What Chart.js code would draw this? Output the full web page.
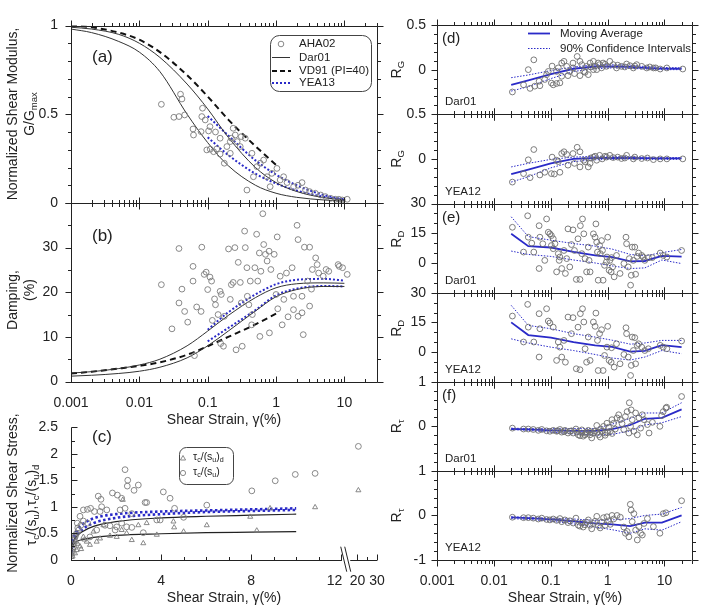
<!DOCTYPE html>
<html>
<head>
<meta charset="utf-8">
<script src="https://cdn.jsdelivr.net/npm/chart.js@4.4.1/dist/chart.umd.min.js"></script>
<style>
  body { margin: 0; background: #fff; }
  #wrap { position: relative; width: 704px; height: 612px; background: #fff; }
  #wrap canvas { position: absolute; left: 0; top: 0; }
</style>
</head>
<body>
<div id="wrap"></div>
<script>
// ---------- data: panel (a) G/Gmax ----------
const strainGrid = [0.001, 0.002, 0.005, 0.01, 0.02, 0.05, 0.1, 0.2, 0.5, 1, 2, 5, 10];
const dar01GUpper = [0.99, 0.98, 0.95, 0.90, 0.82, 0.67, 0.53, 0.37, 0.20, 0.115, 0.065, 0.03, 0.017];
const dar01GLower = [0.98, 0.96, 0.91, 0.85, 0.74, 0.50, 0.34, 0.21, 0.10, 0.055, 0.032, 0.017, 0.011];
const vd91Strain = [0.001, 0.002, 0.005, 0.01, 0.02, 0.05, 0.1, 0.2, 0.5, 1];
const vd91G = [1.0, 0.99, 0.96, 0.92, 0.85, 0.72, 0.60, 0.47, 0.32, 0.215];
const yea13Strain = [0.1, 0.2, 0.5, 1, 2, 5, 10];
const yea13GUpper = [0.49, 0.38, 0.24, 0.16, 0.10, 0.045, 0.02];
const yea13GLower = [0.37, 0.27, 0.165, 0.11, 0.07, 0.035, 0.018];
const aha02G = [[0.021,0.556],[0.032,0.483],[0.038,0.487],[0.046,0.496],[0.040,0.613],[0.042,0.586],[0.061,0.417],[0.062,0.383],
  [0.084,0.534],[0.082,0.487],[0.080,0.402],[0.103,0.406],[0.097,0.299],[0.109,0.303],[0.122,0.289],[0.136,0.305],[0.152,0.276],
  [0.175,0.224],[0.191,0.318],[0.214,0.346],[0.222,0.365],[0.253,0.383],[0.299,0.318],[0.354,0.365],[0.375,0.073],[0.444,0.28],
  [0.467,0.148],[0.526,0.205],[0.587,0.224],[0.658,0.242],[0.736,0.148],[0.82,0.092],[0.87,0.167],[1.03,0.195],[1.15,0.13],
  [1.29,0.148],[1.45,0.115],[1.81,0.092],[2.1,0.10],[2.4,0.115],[2.7,0.073],[3.1,0.064],[3.76,0.055],[4.5,0.045],[5.27,0.036],
  [6.3,0.026],[7.4,0.021],[8.3,0.021],[9.3,0.017],[11,0.021],[0.092,0.468],[0.108,0.43],[0.13,0.40],[0.236,0.421],[0.152,0.365],
  [0.214,0.28],[0.27,0.346],[0.31,0.374]];

// ---------- data: panel (b) damping ----------
const dar01DUpper = [1.9, 2.2, 2.9, 3.7, 5.0, 8.0, 11.3, 14.8, 18.8, 21.0, 21.9, 22.1, 22.0];
const dar01DLower = [1.2, 1.4, 1.8, 2.3, 3.2, 5.3, 8.0, 11.3, 15.8, 19.0, 20.6, 21.3, 21.3];
const vd91D = [1.8, 2.2, 2.9, 3.5, 4.3, 6.0, 7.9, 10.0, 12.8, 15.2];
const yea13DUpper = [11.6, 15.5, 19.5, 21.8, 22.8, 23.0, 22.6];
const yea13DLower = [9.0, 12.0, 16.0, 19.3, 20.8, 21.4, 21.3];
const aha02D = [[0.021,21.7],[0.030,11.8],[0.038,29.8],[0.038,17.6],[0.042,20.7],[0.046,15.7],[0.051,13.3],[0.061,25.8],
  [0.061,22.5],[0.064,5.8],[0.069,16.7],[0.080,15.7],[0.082,30.1],[0.089,24.0],[0.095,24.5],[0.1,20.6],[0.108,23.4],[0.114,22.5],
  [0.117,13.7],[0.126,18.5],[0.13,17.2],[0.142,15.0],[0.152,20.2],[0.155,8.5],[0.158,19.5],[0.17,7.9],[0.175,14.6],[0.202,29.7],
  [0.214,18.4],[0.222,21.7],[0.236,22.2],[0.25,30.0],[0.26,7.1],[0.28,26.7],[0.30,22.2],[0.31,17.6],[0.32,7.9],[0.347,33.7],
  [0.355,30.0],[0.375,25.5],[0.38,19.1],[0.40,17.2],[0.42,22.5],[0.44,12.7],[0.45,15.0],[0.49,25.5],[0.52,33.0],[0.54,22.5],
  [0.57,28.8],[0.58,10.1],[0.60,24.7],[0.64,37.6],[0.66,30.7],[0.70,28.5],[0.74,27.0],[0.79,29.2],[0.8,10.9],[0.84,25.1],
  [0.94,28.5],[1.0,19.5],[1.04,32.4],[1.06,16.3],[1.15,23.6],[1.23,12.7],[1.3,18.4],[1.42,24.3],[1.5,14.5],[1.72,25.5],
  [1.8,19.1],[1.8,16.1],[2.03,35.0],[2.1,31.8],[2.1,14.6],[2.4,15.4],[2.4,19.1],[2.5,10.5],[2.6,30.1],[2.9,22.5],[3.1,30.1],
  [3.1,16.9],[3.3,20.7],[3.4,25.1],[3.8,27.7],[4.0,26.2],[4.2,24.3],[4.9,23.6],[5.4,25.1],[5.9,24.7],[8.1,26.2],[8.4,25.8],
  [9.4,25.5],[11,24.0]];

// ---------- data: panel (c) normalized shear stress ----------
const tauStrain = [0.01, 0.05, 0.1, 0.2, 0.5, 1, 2, 4, 6, 8, 10];
const dar01TauUpper = [0.10, 0.25, 0.33, 0.42, 0.53, 0.63, 0.72, 0.79, 0.82, 0.84, 0.86];
const dar01TauLower = [0.08, 0.20, 0.27, 0.33, 0.38, 0.42, 0.46, 0.49, 0.51, 0.52, 0.53];
const yea13TauUpper = [0.15, 0.28, 0.38, 0.50, 0.66, 0.78, 0.86, 0.91, 0.93, 0.95, 0.97];
const yea13TauLower = [0.12, 0.22, 0.30, 0.42, 0.57, 0.69, 0.79, 0.86, 0.90, 0.92, 0.94];
const tauSu = [[2.4,1.70],[2.52,1.50],[2.5,1.39],[2.8,1.31],[2.99,1.41],[1.21,1.20],[1.33,1.14],[1.84,1.26],[2.06,1.22],
  [2.25,1.16],[3.29,1.08],[3.36,1.08],[4.1,1.28],[4.4,1.16],[4.6,0.97],[6.03,1.03],[8.03,1.30],[9.07,1.49],[9.96,1.61],
  [10.84,1.63],[20.7,2.14],[5.0,0.80],[3.81,0.75],[0.4,0.82],[0.55,0.94],[0.73,0.95],[0.87,0.97],[1.04,0.91],[1.29,0.91],
  [1.36,1.0],[1.59,0.94],[2.18,0.94],[2.4,0.97],[2.7,0.87],[0.55,0.73],[0.74,0.69],[0.34,0.56],[0.28,0.69],[0.44,0.65],
  [0.18,0.43],[0.84,0.43],[1.14,0.56],[1.51,0.65],[1.73,0.64],[1.96,0.56],[2.03,0.62],[2.25,0.69],[2.47,0.62],[2.7,0.61],
  [3.21,0.51],[3.96,0.75],[0.1,0.3],[0.15,0.38],[0.25,0.5],[0.3,0.6],[0.06,0.2],[0.2,0.46]];
const tauSuD = [[2.3,1.13],[1.73,0.45],[2.03,0.43],[2.25,0.56],[2.47,0.50],[2.7,0.37],[2.99,0.65],[3.21,0.31],[3.36,0.69],
  [3.81,0.47],[4.55,0.72],[4.58,0.61],[5.0,0.53],[6.03,0.65],[7.96,0.81],[8.25,0.55],[8.84,0.97],[10.84,0.99],[20.7,1.31],
  [0.7,0.34],[0.84,0.28],[1.14,0.34],[1.29,0.40],[0.4,0.25],[0.25,0.18],[0.18,0.12],[0.55,0.43],[1.0,0.53],[1.44,0.65],
  [0.22,0.34],[0.07,0.06],[0.02,0.05],[0.05,0.1],[0.08,0.15],[0.12,0.22],[0.15,0.28],[0.3,0.3],[0.45,0.2],[0.6,0.38]];

// ---------- data: right panels (residuals) ----------
const maStrain = [0.02, 0.04, 0.1, 0.25, 0.6, 1.2, 2.5, 4.5, 9, 20];
const dTopMA = [-0.17, -0.12, -0.05, 0.01, 0.035, 0.035, 0.03, 0.02, 0.012, 0.01];
const dTopUp = [-0.09, -0.06, -0.01, 0.03, 0.055, 0.055, 0.05, 0.035, 0.025, 0.02];
const dTopLo = [-0.24, -0.19, -0.10, -0.02, 0.01, 0.02, 0.015, 0.008, 0.0, 0.0];
const dBotMA = [-0.17, -0.12, -0.05, 0.0, 0.01, 0.01, 0.01, 0.008, 0.006, 0.005];
const dBotUp = [-0.09, -0.05, -0.005, 0.02, 0.03, 0.03, 0.025, 0.02, 0.015, 0.015];
const dBotLo = [-0.26, -0.20, -0.10, -0.03, -0.01, -0.005, 0.0, -0.005, -0.005, -0.005];
const eTopMA = [14.7, 8.5, 7.8, 5.6, 3.8, 3.0, 0.8, 1.0, 3.6, 3.2];
const eTopUp = [23.3, 13.3, 11.5, 9.8, 8.5, 7.0, 4.3, 3.6, 5.2, 6.8];
const eTopLo = [6.0, 4.3, 3.3, 1.5, 0.0, -1.5, -2.8, -2.5, 1.5, -0.3];
const eBotMA = [15.0, 8.6, 7.3, 5.0, 3.4, 2.6, 0.2, 0.6, 3.5, 2.5];
const eBotUp = [23.6, 13.5, 11.8, 9.3, 7.6, 6.0, 4.0, 4.6, 5.9, 5.9];
const eBotLo = [6.7, 4.6, 2.5, 0.8, -1.2, -3.0, -4.0, -2.5, 0.8, -0.8];
const fTopMA = [-0.06, -0.07, -0.09, -0.10, -0.10, -0.06, 0.03, 0.17, 0.19, 0.38];
const fTopUp = [-0.04, -0.05, -0.05, -0.05, -0.05, 0.05, 0.18, 0.30, 0.30, 0.53];
const fTopLo = [-0.07, -0.09, -0.13, -0.17, -0.20, -0.18, -0.10, 0.03, 0.08, 0.22];
const fBotMA = [-0.045, -0.06, -0.09, -0.13, -0.18, -0.20, -0.24, -0.16, -0.16, 0.0];
const fBotUp = [-0.03, -0.04, -0.06, -0.08, -0.11, -0.10, -0.07, 0.0, 0.03, 0.18];
const fBotLo = [-0.07, -0.09, -0.13, -0.19, -0.26, -0.32, -0.40, -0.30, -0.33, -0.14];

const dTopPts = [[0.021,-0.25],[0.033,-0.17],[0.040,0.0],[0.050,0.11],[0.043,-0.21],[0.052,-0.185],[0.064,-0.18],[0.062,-0.13],
  [0.078,-0.11],[0.084,-0.056],[0.09,-0.02],[0.102,-0.15],[0.11,-0.17],[0.126,-0.155],[0.144,-0.148],[0.155,0.074],[0.17,0.093],
  [0.19,0.037],[0.215,-0.02],[0.245,0.074],[0.29,0.148],[0.325,0.093],[0.35,0.056],[0.38,-0.02],[0.425,0.037],[0.455,-0.056],
  [0.49,0.074],[0.56,0.093],[0.64,0.0],[0.72,0.056],[0.83,0.074],[0.95,0.037],[1.09,0.093],[1.25,0.056],[1.43,0.019],[1.75,0.037],
  [2.15,0.063],[2.47,0.044],[2.83,0.019],[3.24,0.056],[3.97,0.037],[4.87,0.019],[6.38,0.019],[8.4,0.007],[11,0.019],[21,0.007],
  [0.126,-0.02],[0.155,-0.074],[0.2,-0.067],[0.26,-0.044],[0.325,-0.067],[0.4,-0.03],[0.245,0.02],[0.56,0.0],[0.68,0.074],
  [0.78,0.02],[0.105,0.04],[0.135,0.02],[0.5,0.03],[0.6,0.04],[0.9,0.06],[1.5,0.05],[2.0,0.03],[3.0,0.04],[5.5,0.03],[7,0.02]];
const dBotPts = [[0.021,-0.26],[0.033,-0.165],[0.04,-0.01],[0.05,0.105],[0.043,-0.21],[0.064,-0.18],[0.078,-0.15],[0.102,-0.165],
  [0.115,-0.17],[0.144,-0.15],[0.155,0.06],[0.17,0.08],[0.19,0.05],[0.245,0.06],[0.29,0.13],[0.325,0.08],[0.38,-0.015],
  [0.455,-0.09],[0.49,-0.05],[0.56,0.02],[0.64,-0.015],[0.72,0.04],[0.95,0.02],[1.09,0.04],[1.25,0.015],[1.75,0.004],[2.15,0.04],
  [2.83,0.0],[3.97,0.004],[6.38,-0.008],[11,0.0],[21,0.0],[0.126,-0.015],[0.2,-0.07],[0.26,-0.05],[0.325,-0.09],[0.4,-0.034],
  [0.105,0.02],[0.135,-0.03],[0.5,0.01],[0.6,0.03],[0.8,0.0],[0.9,0.03],[1.5,0.02],[2.0,0.01],[3.0,0.02],[5,0.01],[8.4,0.0]];
const eTopPts = [[0.021,18],[0.033,5.5],[0.039,23.8],[0.04,13],[0.046,10],[0.05,5.5],[0.062,18.8],[0.062,-2.8],[0.064,13],
  [0.072,9.7],[0.078,1.3],[0.084,22.2],[0.09,15.5],[0.096,14.7],[0.102,13.8],[0.11,12.2],[0.102,8.8],[0.11,7.2],[0.118,9.7],
  [0.126,-4.5],[0.135,4.7],[0.14,1.3],[0.144,3],[0.155,-2.8],[0.17,6.3],[0.18,-5.3],[0.19,2.2],[0.2,17.2],[0.215,-2],[0.23,9.3],
  [0.245,16.7],[0.26,6.3],[0.28,-8.3],[0.3,12.2],[0.325,-8.3],[0.33,18.8],[0.35,4.7],[0.36,22.2],[0.38,14.7],[0.4,2.2],
  [0.425,-4.5],[0.455,8],[0.47,1.3],[0.49,-4.5],[0.56,14.7],[0.6,13],[0.62,19.7],[0.64,10.5],[0.66,5.5],[0.68,-8.7],[0.72,8.8],
  [0.74,4.7],[0.78,11.3],[0.81,6.3],[0.83,-8.7],[0.88,-1.2],[0.95,0.5],[0.97,3],[1.0,13],[1.06,-3.7],[1.09,1.3],[1.15,-4.5],
  [1.17,2.7],[1.22,-2],[1.3,-7],[1.43,3.8],[1.65,-5.3],[1.93,-0.3],[2.1,13],[2.15,9.7],[2.3,-2],[2.4,2.2],[2.53,-11.2],
  [2.6,-6.2],[2.7,8],[2.83,1.3],[3.0,8],[3.1,-5.7],[3.3,3.3],[3.5,5],[3.97,3.8],[4.2,3],[4.5,1.3],[5.2,2.7],[6.1,2.7],[8.4,5],
  [9.5,3.8],[11,3],[20,6.3]];
const eBotPts = [[0.021,18.2],[0.033,5.1],[0.039,24.1],[0.04,12.6],[0.05,5.1],[0.062,19.4],[0.062,-2.5],[0.064,11.8],[0.084,21.9],
  [0.09,15.7],[0.096,14.7],[0.11,12.6],[0.126,-4.2],[0.135,5.1],[0.144,2.5],[0.155,-2.5],[0.17,5.9],[0.18,-5.1],[0.2,17.7],
  [0.23,9.3],[0.245,17.4],[0.28,-8.4],[0.3,12.6],[0.325,-8.9],[0.33,19.4],[0.36,21.9],[0.38,15.2],[0.4,1.7],[0.425,-5.1],
  [0.455,7.6],[0.49,-4.2],[0.56,15.2],[0.6,13],[0.62,19.7],[0.66,5.9],[0.68,-9.3],[0.72,9.3],[0.78,11.3],[0.83,-9.3],[0.88,-1.7],
  [0.97,2.5],[1.0,13],[1.06,-4.2],[1.15,-5.1],[1.17,2.2],[1.3,-7.6],[1.43,4.2],[1.65,-5.9],[1.93,-1.2],[2.1,12.3],[2.15,9.3],
  [2.3,-2.5],[2.53,-11.8],[2.6,-6.7],[2.7,7.6],[2.83,0.8],[3.0,7.3],[3.1,-5.9],[3.3,3.4],[3.5,4.2],[3.97,2.5],[4.5,0.8],
  [5.2,1.7],[8.4,3.4],[9.5,2.5],[11,1.7],[20,5.6]];
const fTopPts = [[0.021,-0.04],[0.033,-0.06],[0.040,-0.06],[0.049,-0.07],[0.060,-0.09],[0.069,-0.07],[0.084,-0.1],[0.096,-0.11],
  [0.11,-0.09],[0.126,-0.11],[0.144,-0.07],[0.155,-0.13],[0.177,-0.09],[0.2,-0.15],[0.216,-0.11],[0.247,-0.15],[0.276,-0.06],
  [0.303,-0.19],[0.324,-0.21],[0.347,-0.15],[0.371,-0.22],[0.398,-0.19],[0.426,-0.13],[0.456,-0.09],[0.488,-0.19],[0.523,-0.26],
  [0.56,-0.15],[0.6,-0.11],[0.642,0.02],[0.688,-0.19],[0.737,-0.24],[0.789,-0.11],[0.845,0.0],[0.905,-0.15],[0.969,0.07],
  [1.04,-0.02],[1.11,-0.11],[1.19,0.15],[1.27,0.07],[1.36,-0.06],[1.46,0.19],[1.56,0.26],[1.67,0.15],[1.79,0.06],[1.92,-0.07],
  [2.05,0.22],[2.2,0.33],[2.36,-0.15],[2.52,0.0],[2.59,0.37],[2.7,0.15],[2.89,-0.11],[3.1,0.3],[3.32,-0.19],[3.55,0.19],
  [3.8,-0.04],[4.07,0.26],[4.36,0.15],[5.0,0.04],[5.35,-0.15],[6.13,0.09],[8.3,0.0],[8.9,0.24],[9.5,0.33],[10.6,0.41],[10.9,0.43],
  [2.4,0.53],[20,0.67],[0.13,-0.1],[0.17,-0.12],[0.23,-0.1],[0.29,-0.13],[0.35,-0.08],[0.42,-0.16],[0.5,-0.12],[0.65,-0.13],
  [0.75,-0.06],[0.9,-0.2],[1.0,-0.14],[1.2,-0.16]];
const fBotPts = [[0.021,-0.04],[0.033,-0.05],[0.04,-0.05],[0.049,-0.06],[0.06,-0.08],[0.069,-0.06],[0.084,-0.09],[0.096,-0.1],
  [0.11,-0.08],[0.126,-0.11],[0.144,-0.07],[0.155,-0.14],[0.177,-0.1],[0.2,-0.16],[0.216,-0.12],[0.247,-0.17],[0.276,-0.06],
  [0.303,-0.22],[0.324,-0.24],[0.347,-0.17],[0.371,-0.26],[0.398,-0.21],[0.426,-0.15],[0.456,-0.1],[0.488,-0.22],[0.523,-0.3],
  [0.56,-0.18],[0.6,-0.13],[0.642,-0.02],[0.688,-0.23],[0.737,-0.28],[0.789,-0.15],[0.845,-0.05],[0.905,-0.22],[0.969,-0.03],
  [1.04,-0.12],[1.11,-0.2],[1.19,0.0],[1.27,-0.08],[1.46,0.0],[1.67,-0.04],[1.92,-0.26],[2.05,-0.4],[2.2,-0.36],[2.36,-0.48],
  [2.5,0.25],[2.59,0.12],[2.7,-0.14],[2.89,0.04],[3.1,-0.33],[3.32,-0.55],[3.55,-0.25],[3.8,-0.4],[4.07,-0.44],[4.36,-0.18],
  [5.0,-0.07],[6.38,-0.25],[8.3,-0.4],[9.5,0.04],[10.6,0.06],[20,0.33]];

// ---------- styling & helpers ----------
const FONT = '"Liberation Sans", Arial, Helvetica, sans-serif';
const INK = '#222';
const GREY = '#7c7c7c';
const BLUE = '#2a2ac8';
const wrap = document.getElementById('wrap');

const zip = (xs, ys) => xs.map((x, i) => ({ x: x, y: ys[i] }));
const pairs = (arr, fx) => arr.map(([x, y]) => ({ x: fx ? fx(x) : x, y: y }));
// broken x axis of panel (c): 0..12 linear, then 20..30 squeezed in
const brk = x => (x <= 12.5 ? x : 12.70 + (x - 20) * 0.0889);

function line(data, color, width, dash, smooth) {
  return { data, showLine: true, pointRadius: 0, borderColor: color, borderWidth: width,
    borderDash: dash || [], cubicInterpolationMode: smooth ? 'monotone' : 'default', fill: false };
}
function dots(data, style, color) {
  return { data, showLine: false, pointStyle: style || 'circle', pointRadius: 2.9,
    pointBorderColor: color || GREY, pointBackgroundColor: 'rgba(0,0,0,0)', pointBorderWidth: 0.9 };
}
function range(a, b, s) { const out = []; for (let v = a; v <= b + s * 1e-6; v += s) out.push(+v.toFixed(6)); return out; }
function logTicks(lo, hi) {
  const out = [];
  for (let e = -3; e <= 1; e++) for (let m = 1; m <= 9; m++) {
    const v = +(m * Math.pow(10, e)).toPrecision(3);
    if (v >= lo * 0.999 && v <= hi * 1.001) out.push(v);
  }
  return out;
}
const near = (v, list) => list.some(m => Math.abs(m - v) < 1e-9 * Math.max(1, Math.abs(m)));

function rich(ctx, parts, x, y, size, align) {
  const w = parts.map(([t, s]) => { ctx.font = (s ? size * 0.68 : size) + 'px ' + FONT; return ctx.measureText(t).width; });
  const tot = w.reduce((a, b) => a + b, 0);
  let cx = align === 'center' ? x - tot / 2 : align === 'right' ? x - tot : x;
  ctx.textAlign = 'left'; ctx.textBaseline = 'middle';
  parts.forEach(([t, s], i) => {
    ctx.font = (s ? size * 0.68 : size) + 'px ' + FONT;
    ctx.fillText(t, cx, y + (s ? size * 0.3 : 0));
    cx += w[i];
  });
}
function vrich(ctx, parts, x, y, size) {
  ctx.save(); ctx.translate(x, y); ctx.rotate(-Math.PI / 2);
  rich(ctx, parts, 0, 0, size, 'center');
  ctx.restore();
}
function roundBox(ctx, x0, y0, x1, y1, r) {
  ctx.beginPath();
  ctx.moveTo(x0 + r, y0); ctx.lineTo(x1 - r, y0); ctx.arcTo(x1, y0, x1, y0 + r, r);
  ctx.lineTo(x1, y1 - r); ctx.arcTo(x1, y1, x1 - r, y1, r); ctx.lineTo(x0 + r, y1);
  ctx.arcTo(x0, y1, x0, y1 - r, r); ctx.lineTo(x0, y0 + r); ctx.arcTo(x0, y0, x0 + r, y0, r);
  ctx.stroke();
}

function drawFrame(c, f) {
  const ctx = c.ctx, A = c.chartArea, X = c.scales.x, Y = c.scales.y;
  const L = Math.round(A.left) + 0.5, R = Math.round(A.right) + 0.5;
  const T = Math.round(A.top) + 0.5, B = Math.round(A.bottom) + 0.5;
  ctx.save();
  ctx.strokeStyle = INK; ctx.fillStyle = INK; ctx.lineWidth = 1;
  ctx.beginPath();
  if (f.box.includes('l')) { ctx.moveTo(L, T); ctx.lineTo(L, B); }
  if (f.box.includes('r')) { ctx.moveTo(R, T); ctx.lineTo(R, B); }
  if (f.box.includes('t')) { ctx.moveTo(L, T); ctx.lineTo(R, T); }
  if (f.box.includes('b')) {
    (f.bottomSegs || [[X.min, X.max]]).forEach(([a, b]) => {
      ctx.moveTo(X.getPixelForValue(a), B); ctx.lineTo(X.getPixelForValue(b), B);
    });
  }
  // tick marks
  const seg = (x0, y0, x1, y1) => { ctx.moveTo(x0, y0); ctx.lineTo(x1, y1); };
  const span = (base, sign, len, dir) =>
    dir === 'out' ? [base, base + sign * len] : dir === 'in' ? [base, base - sign * len] : [base - len, base + len];
  const xt = f.xt, yt = f.yt;
  xt.vals.forEach(v => {
    const p = Math.round(X.getPixelForValue(v)) + 0.5, len = near(v, xt.major) ? 6 : 3.5;
    if (xt.top) { const [a, b] = span(T, -1, len, xt.top); seg(p, a, p, b); }
    if (xt.bottom) { const [a, b] = span(B, 1, len, xt.bottom); seg(p, a, p, b); }
  });
  yt.vals.forEach(v => {
    const p = Math.round(Y.getPixelForValue(v)) + 0.5, len = near(v, yt.major) ? 6 : 3.5;
    if (yt.left) { const [a, b] = span(L, -1, len, yt.left); seg(a, p, b, p); }
    if (yt.right) { const [a, b] = span(R, 1, len, yt.right); seg(a, p, b, p); }
  });
  ctx.stroke();
  // tick labels
  ctx.font = '14px ' + FONT; ctx.textBaseline = 'middle';
  ctx.textAlign = 'right';
  (f.yl || []).forEach(([v, t]) => ctx.fillText(t, f.ylx, Y.getPixelForValue(v)));
  ctx.textAlign = 'center';
  (f.xl || []).forEach(([v, t]) => ctx.fillText(t, X.getPixelForValue(v), f.xly));
  if (f.decor) f.decor(ctx, c);
  ctx.restore();
}

function panel(f) {
  const cv = document.createElement('canvas');
  cv.width = 704; cv.height = 612;
  wrap.appendChild(cv);
  const [l, t, r, b] = f.area;
  return new Chart(cv, {
    type: 'scatter',
    data: { datasets: f.datasets },
    options: {
      responsive: false, animation: false, events: [],
      layout: { autoPadding: false, padding: { left: l, top: t, right: 704 - r, bottom: 612 - b } },
      scales: {
        x: Object.assign({ display: false }, f.x),
        y: Object.assign({ display: false }, f.y)
      },
      plugins: { legend: { display: false }, tooltip: { enabled: false } }
    },
    plugins: [{ id: 'frame', afterDraw: c => drawFrame(c, f) }]
  });
}

const leftLog = { type: 'logarithmic', min: 0.001, max: 30 };
const decades = [0.001, 0.01, 0.1, 1, 10];
const strainTitle = [['Shear Strain, γ(%)', false]];

// ---------- panel (a) ----------
panel({
  area: [71, 25.5, 377, 203],
  x: leftLog, y: { min: 0, max: 1 },
  datasets: [
    dots(pairs(aha02G)),
    line(zip(strainGrid, dar01GUpper), '#333', 1, [], true),
    line(zip(strainGrid, dar01GLower), '#333', 1, [], true),
    line(zip(vd91Strain, vd91G), '#111', 2, [6, 4], true),
    line(zip(yea13Strain, yea13GUpper), BLUE, 2, [2, 2], true),
    line(zip(yea13Strain, yea13GLower), BLUE, 2, [2, 2], true)
  ],
  box: 'lrtb',
  xt: { vals: logTicks(0.001, 30), major: decades, top: 'out', bottom: 'both' },
  yt: { vals: range(0, 1, 0.1), major: [0, 0.5, 1], left: 'out', right: 'out' },
  yl: [[0, '0'], [0.5, '0.5'], [1, '1']], ylx: 58,
  decor: ctx => {
    ctx.font = '17px ' + FONT; ctx.textAlign = 'left'; ctx.textBaseline = 'middle';
    ctx.fillText('(a)', 92, 57);
    vrich(ctx, [['Normalized Shear Modulus,', false]], 13, 114, 14);
    vrich(ctx, [['G/G', false], ['max', true]], 30, 114, 14);
    // legend
    ctx.strokeStyle = '#444'; ctx.lineWidth = 1;
    roundBox(ctx, 270.5, 35.5, 371.5, 91.5, 9);
    ctx.strokeStyle = GREY; ctx.lineWidth = 0.9;
    ctx.beginPath(); ctx.arc(281, 44, 2.8, 0, Math.PI * 2); ctx.stroke();
    ctx.strokeStyle = '#333'; ctx.lineWidth = 1;
    ctx.beginPath(); ctx.moveTo(272, 57.5); ctx.lineTo(290, 57.5); ctx.stroke();
    ctx.strokeStyle = '#111'; ctx.lineWidth = 2; ctx.setLineDash([5, 3]);
    ctx.beginPath(); ctx.moveTo(272, 71); ctx.lineTo(291, 71); ctx.stroke();
    ctx.strokeStyle = BLUE; ctx.setLineDash([2, 2]);
    ctx.beginPath(); ctx.moveTo(272, 83); ctx.lineTo(291, 83); ctx.stroke();
    ctx.setLineDash([]);
    ctx.fillStyle = INK; ctx.font = '11.5px ' + FONT; ctx.textAlign = 'left';
    ctx.fillText('AHA02', 299, 44); ctx.fillText('Dar01', 299, 57.5);
    ctx.fillText('VD91 (PI=40)', 299, 71); ctx.fillText('YEA13', 299, 83);
  }
});

// ---------- panel (b) ----------
panel({
  area: [71, 203, 377, 381.5],
  x: leftLog, y: { min: 0, max: 40 },
  datasets: [
    dots(pairs(aha02D)),
    line(zip(strainGrid, dar01DUpper), '#333', 1, [], true),
    line(zip(strainGrid, dar01DLower), '#333', 1, [], true),
    line(zip(vd91Strain, vd91D), '#111', 2, [6, 4], true),
    line(zip(yea13Strain, yea13DUpper), BLUE, 2, [2, 2], true),
    line(zip(yea13Strain, yea13DLower), BLUE, 2, [2, 2], true)
  ],
  box: 'lrb',
  xt: { vals: logTicks(0.001, 30), major: decades, bottom: 'in' },
  yt: { vals: range(0, 40, 5), major: [0, 10, 20, 30, 40], left: 'out', right: 'out' },
  yl: [[0, '0'], [10, '10'], [20, '20'], [30, '30']], ylx: 58,
  xl: [[0.001, '0.001'], [0.01, '0.01'], [0.1, '0.1'], [1, '1'], [10, '10']], xly: 403,
  decor: ctx => {
    ctx.font = '17px ' + FONT; ctx.textAlign = 'left'; ctx.textBaseline = 'middle';
    ctx.fillText('(b)', 92, 236);
    vrich(ctx, [['Damping,', false]], 13, 300, 14);
    vrich(ctx, [['(%)', false]], 30, 290, 14);
    rich(ctx, strainTitle, 224, 420, 14, 'center');
  }
});

// ---------- panel (c) ----------
panel({
  area: [71, 427.3, 377, 559.7],
  x: { type: 'linear', min: 0, max: brk(30) }, y: { min: 0, max: 2.5 },
  datasets: [
    dots(pairs(tauSuD, brk), 'triangle'),
    dots(pairs(tauSu, brk)),
    line(zip(tauStrain, dar01TauUpper), '#222', 1.2, [], true),
    line(zip(tauStrain, dar01TauLower), '#222', 1.2, [], true),
    line(zip(tauStrain, yea13TauUpper), BLUE, 2.6, [2.5, 2.5], true),
    line(zip(tauStrain, yea13TauLower), BLUE, 2.6, [2.5, 2.5], true)
  ],
  box: 'lb', bottomSegs: [[0, 12.03], [12.4, brk(30)]],
  xt: { vals: range(0, 12, 1).concat([brk(20), brk(25), brk(30)]), major: [0, 4, 8, 12, brk(20), brk(30)], bottom: 'in' },
  yt: { vals: range(0, 2.5, 0.25), major: range(0, 2.5, 0.5), left: 'in' },
  yl: [[0, '0'], [0.5, '0.5'], [1, '1'], [1.5, '1.5'], [2, '2'], [2.5, '2.5']], ylx: 58,
  xl: [[0, '0'], [4, '4'], [8, '8'], [11.7, '12'], [brk(20.3), '20'], [brk(30), '30']], xly: 581.5,
  decor: (ctx, c) => {
    ctx.font = '17px ' + FONT; ctx.textAlign = 'left'; ctx.textBaseline = 'middle';
    ctx.fillText('(c)', 92, 437);
    vrich(ctx, [['Normalized Shear Stress,', false]], 13, 493, 14);
    vrich(ctx, [['τ', false], ['c', true], ['/(s', false], ['u', true], ['),τ', false], ['c', true], ['/(s', false], ['u', true], [')', false], ['d', true]], 32, 505, 14);
    rich(ctx, strainTitle, 224, 598, 14, 'center');
    // axis break marks
    const px = c.scales.x.getPixelForValue(12.2), by = c.chartArea.bottom;
    ctx.strokeStyle = INK; ctx.lineWidth = 1; ctx.beginPath();
    ctx.moveTo(px - 5, by - 13); ctx.lineTo(px + 1, by + 12);
    ctx.moveTo(px - 1, by - 13); ctx.lineTo(px + 5, by + 12);
    ctx.stroke();
    // legend
    ctx.strokeStyle = '#444';
    roundBox(ctx, 179.5, 447.5, 233.5, 484.5, 7);
    ctx.strokeStyle = GREY; ctx.lineWidth = 0.9; ctx.beginPath();
    ctx.moveTo(183, 455.5); ctx.lineTo(185.6, 460); ctx.lineTo(180.4, 460); ctx.closePath(); ctx.stroke();
    ctx.beginPath(); ctx.arc(183, 473, 2.6, 0, Math.PI * 2); ctx.stroke();
    ctx.fillStyle = INK;
    rich(ctx, [['τ', false], ['c', true], ['/(s', false], ['u', true], [')', false], ['d', true]], 193, 457, 10.5, 'left');
    rich(ctx, [['τ', false], ['c', true], ['/(s', false], ['u', true], [')', false]], 193, 472, 10.5, 'left');
  }
});

// ---------- right panels (d), (e), (f) ----------
const rightLog = { type: 'logarithmic', min: 0.001, max: 30 };
const rightPanels = [
  { area: [437.3, 25, 691.6, 114.3], y: [-0.5, 0.5], step: 0.1, yl: [[0.5, '0.5'], [0, '0']], pts: dTopPts,
    ma: dTopMA, up: dTopUp, lo: dTopLo, tag: 'Dar01', sub: 'G', titleAt: 0, letter: '(d)', top: 'out', bottom: 'both' },
  { area: [437.3, 114.3, 691.6, 203.5], y: [-0.5, 0.5], step: 0.1, yl: [[0.5, '0.5'], [0, '0']], pts: dBotPts,
    ma: dBotMA, up: dBotUp, lo: dBotLo, tag: 'YEA12', sub: 'G', titleAt: 0, top: 'both', bottom: 'both' },
  { area: [437.3, 203.5, 691.6, 292.7], y: [-15, 30], step: 5, yl: [[30, '30'], [15, '15'], [0, '0']], pts: eTopPts,
    ma: eTopMA, up: eTopUp, lo: eTopLo, tag: 'Dar01', sub: 'D', titleAt: 12, letter: '(e)', top: 'both', bottom: 'both' },
  { area: [437.3, 292.7, 691.6, 381.8], y: [-15, 30], step: 5, yl: [[30, '30'], [15, '15'], [0, '0']], pts: eBotPts,
    ma: eBotMA, up: eBotUp, lo: eBotLo, tag: 'YEA12', sub: 'D', titleAt: 12, top: 'both', bottom: 'both' },
  { area: [437.3, 381.8, 691.6, 470.9], y: [-1, 1], step: 0.2, yl: [[1, '1'], [0, '0']], pts: fTopPts,
    ma: fTopMA, up: fTopUp, lo: fTopLo, tag: 'Dar01', sub: 'τ', titleAt: 0, letter: '(f)', top: 'both', bottom: 'both' },
  { area: [437.3, 470.9, 691.6, 560], y: [-1, 1], step: 0.2, yl: [[1, '1'], [0, '0'], [-1, '-1']], pts: fBotPts,
    ma: fBotMA, up: fBotUp, lo: fBotLo, tag: 'YEA12', sub: 'τ', titleAt: 0, top: 'both', bottom: 'out', last: true }
];

rightPanels.forEach((p, i) => {
  const [ymin, ymax] = p.y;
  panel({
    area: p.area,
    x: rightLog, y: { min: ymin, max: ymax },
    datasets: [
      dots(pairs(p.pts), 'circle', '#6e6e6e'),
      line(zip(maStrain, p.up), BLUE, 1, [1.5, 1.5]),
      line(zip(maStrain, p.lo), BLUE, 1, [1.5, 1.5]),
      line(zip(maStrain, p.ma), BLUE, 1.8)
    ],
    box: 'lrtb',
    xt: { vals: logTicks(0.001, 30), major: decades, top: p.top, bottom: p.bottom },
    yt: { vals: range(ymin, ymax, p.step), major: p.yl.map(d => d[0]), left: 'out', right: 'out' },
    yl: p.yl, ylx: 426,
    xl: p.last ? [[0.001, '0.001'], [0.01, '0.01'], [0.1, '0.1'], [1, '1'], [10, '10']] : [], xly: 581.5,
    decor: (ctx, c) => {
      const A = c.chartArea, Y = c.scales.y;
      ctx.textAlign = 'left'; ctx.textBaseline = 'middle';
      ctx.font = '11.5px ' + FONT;
      ctx.fillText(p.tag, 445, A.bottom - 12);
      if (p.letter) { ctx.font = '15px ' + FONT; ctx.fillText(p.letter, 442, A.top + 14); }
      vrich(ctx, [['R', false], [p.sub, true]], 397, Y.getPixelForValue(p.titleAt), 14);
      if (i === 0) {
        ctx.strokeStyle = BLUE; ctx.lineWidth = 1.8;
        ctx.beginPath(); ctx.moveTo(528, 33.5); ctx.lineTo(550, 33.5); ctx.stroke();
        ctx.lineWidth = 1; ctx.setLineDash([1.5, 1.5]);
        ctx.beginPath(); ctx.moveTo(528, 48.5); ctx.lineTo(550, 48.5); ctx.stroke();
        ctx.setLineDash([]);
        ctx.font = '11.5px ' + FONT; ctx.fillStyle = INK;
        ctx.fillText('Moving Average', 560, 33.5);
        ctx.fillText('90% Confidence Intervals', 560, 48.5);
      }
      if (p.last) rich(ctx, strainTitle, 565, 598, 14, 'center');
    }
  });
});
</script>
</body>
</html>
